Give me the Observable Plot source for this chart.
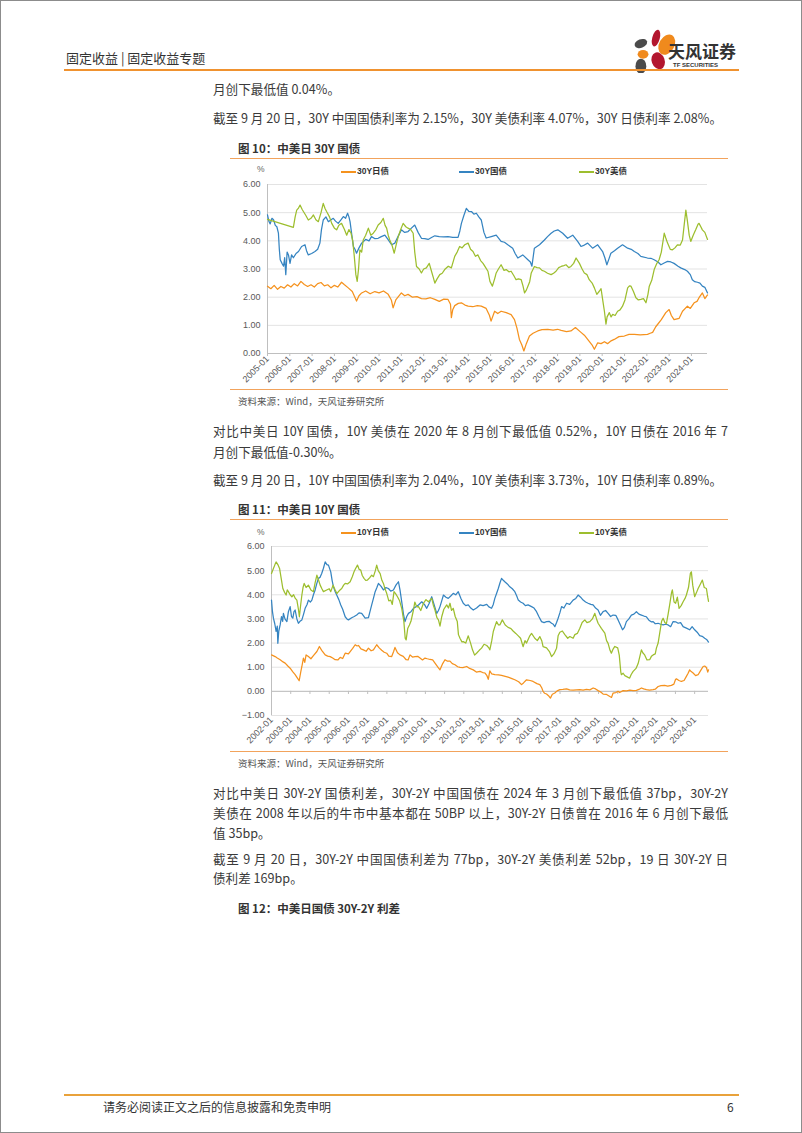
<!DOCTYPE html>
<html><head><meta charset="utf-8">
<script src="https://cdn.jsdelivr.net/npm/d3@7"></script>
<script src="https://cdn.jsdelivr.net/npm/@observablehq/plot@0.6"></script>
<style>
body{margin:0;background:#fff;}
#page{position:relative;width:802px;height:1133px;box-sizing:border-box;border:1px solid #8c8c8c;overflow:hidden;font-family:"Noto Sans CJK SC","Noto Sans",sans-serif;color:#3a3a3a;background:#fff;}
.a{position:absolute;white-space:nowrap;line-height:20px;}
.p{font-size:12.6px;left:212px;}
.j{width:515px;text-align:justify;text-align-last:justify;}
.title{font-size:11.5px;font-weight:bold;left:237px;color:#333;}
.rule{position:absolute;left:229px;width:498px;height:1px;background:#F2A35C;}
.src{font-size:9.5px;left:237px;color:#555;}
.leg{position:absolute;font-family:"Liberation Sans",Arial,"Noto Sans CJK SC",sans-serif;font-size:8.5px;font-weight:bold;color:#333;line-height:12px;white-space:nowrap;}
.sw{display:inline-block;width:15px;height:0;border-top:2px solid;vertical-align:middle;margin-right:1px;}
.unit{position:absolute;font-family:"Liberation Sans",Arial,sans-serif;font-size:8.5px;color:#666;line-height:12px;}
.chart{position:absolute;}
.chart svg{overflow:visible;}
</style></head>
<body><div id="page">
<!-- header -->
<div class="a" style="left:65px;top:47px;font-size:13px;color:#333;">固定收益 | 固定收益专题</div>
<svg style="position:absolute;left:626px;top:20px;" width="116" height="52">
  <g transform="translate(2,2) scale(1.08)">
  <ellipse cx="25" cy="14" rx="3.5" ry="8" fill="#B3162E" transform="rotate(15 25 14)"/>
  <ellipse cx="35" cy="20" rx="7" ry="10" fill="#F08A1D" transform="rotate(30 35 20)"/>
  <ellipse cx="11" cy="19" rx="6" ry="4" fill="#4b4b4b" transform="rotate(-20 11 19)"/>
  <ellipse cx="13" cy="29" rx="5" ry="4" fill="#F08A1D"/>
  <ellipse cx="27" cy="35" rx="6" ry="8" fill="#B3162E" transform="rotate(-20 27 35)"/>
  <ellipse cx="11" cy="40" rx="5" ry="7" fill="#4b4b4b"/>
  </g>
  <text x="41" y="37" font-size="17" font-weight="bold" fill="#333" font-family="Noto Sans CJK SC">天风证券</text>
  <text x="46" y="46" font-size="6" font-weight="bold" fill="#333" font-family="Liberation Sans">TF SECURITIES</text>
</svg>
<div style="position:absolute;left:63px;top:68px;width:675px;height:2px;background:#F0922F;"></div>

<div class="a p" style="top:78px;">月创下最低值 0.04%。</div>
<div class="a p" style="top:107px;">截至 9 月 20 日，30Y 中国国债利率为 2.15%，30Y 美债利率 4.07%，30Y 日债利率 2.08%。</div>

<!-- chart 1 -->
<div class="a title" style="top:137px;">图 10：中美日 30Y 国债</div>
<div class="rule" style="top:157px;"></div>
<div class="unit" style="left:256px;top:162px;">%</div>
<div id="leg1"></div>
<div class="chart" id="c1" style="left:225px;top:175px;"></div>
<div class="rule" style="top:388px;"></div>
<div class="a src" style="top:390px;">资料来源：Wind，天风证券研究所</div>

<div class="a p j" style="top:420px;">对比中美日 10Y 国债，10Y 美债在 2020 年 8 月创下最低值 0.52%，10Y 日债在 2016 年 7</div>
<div class="a p" style="top:441px;">月创下最低值-0.30%。</div>
<div class="a p" style="top:469px;">截至 9 月 20 日，10Y 中国国债利率为 2.04%，10Y 美债利率 3.73%，10Y 日债利率 0.89%。</div>

<!-- chart 2 -->
<div class="a title" style="top:498px;">图 11：中美日 10Y 国债</div>
<div class="rule" style="top:518px;"></div>
<div class="unit" style="left:256px;top:525px;">%</div>
<div id="leg2"></div>
<div class="chart" id="c2" style="left:225px;top:535px;"></div>
<div class="rule" style="top:750px;"></div>
<div class="a src" style="top:752px;">资料来源：Wind，天风证券研究所</div>

<div class="a p j" style="top:782px;">对比中美日 30Y-2Y 国债利差，30Y-2Y 中国国债在 2024 年 3 月创下最低值 37bp，30Y-2Y</div>
<div class="a p j" style="top:802px;">美债在 2008 年以后的牛市中基本都在 50BP 以上，30Y-2Y 日债曾在 2016 年 6 月创下最低</div>
<div class="a p" style="top:822px;">值 35bp。</div>
<div class="a p j" style="top:848px;">截至 9 月 20 日，30Y-2Y 中国国债利差为 77bp，30Y-2Y 美债利差 52bp，19 日 30Y-2Y 日</div>
<div class="a p" style="top:867px;">债利差 169bp。</div>
<div class="a title" style="top:897px;">图 12：中美日国债 30Y-2Y 利差</div>

<!-- footer -->
<div style="position:absolute;left:63px;top:1093px;width:675px;height:2px;background:#E9A23B;"></div>
<div class="a" style="left:102px;top:1096px;font-size:12px;color:#333;">请务必阅读正文之后的信息披露和免责申明</div>
<div class="a" style="left:726px;top:1096px;font-size:12px;color:#333;">6</div>
</div>
<script>
// ---------- data (decimal year, %) ----------
const legend1 = ["30Y日债", "30Y国债", "30Y美债"];
const legend2 = ["10Y日债", "10Y国债", "10Y美债"];
const yTicks1 = [0, 1, 2, 3, 4, 5, 6];
const yTicks2 = [-1, 0, 1, 2, 3, 4, 5, 6];

const jgb30 = [[2005.0,2.39],[2005.15,2.30],[2005.3,2.42],[2005.45,2.28],[2005.6,2.38],[2005.75,2.32],[2005.9,2.44],[2006.05,2.36],[2006.2,2.48],[2006.35,2.40],[2006.5,2.56],[2006.65,2.45],[2006.8,2.38],[2006.95,2.44],[2007.1,2.36],[2007.25,2.48],[2007.4,2.52],[2007.55,2.40],[2007.7,2.44],[2007.85,2.33],[2008.0,2.42],[2008.15,2.36],[2008.32,2.53],[2008.45,2.44],[2008.62,2.33],[2008.8,2.20],[2008.99,1.86],[2009.1,2.05],[2009.22,2.15],[2009.4,2.22],[2009.6,2.12],[2009.81,2.2],[2010.0,2.15],[2010.2,2.22],[2010.41,2.1],[2010.55,1.9],[2010.63,1.62],[2010.75,1.9],[2011.0,2.15],[2011.15,2.05],[2011.3,2.1],[2011.5,2.0],[2011.7,2.02],[2011.9,1.95],[2012.1,1.94],[2012.3,1.98],[2012.5,1.92],[2012.7,1.85],[2012.9,1.93],[2013.09,1.92],[2013.2,1.75],[2013.24,1.27],[2013.3,1.55],[2013.39,1.7],[2013.55,1.78],[2013.69,1.8],[2013.85,1.72],[2013.99,1.68],[2014.2,1.66],[2014.4,1.70],[2014.58,1.68],[2014.8,1.6],[2014.95,1.35],[2015.02,1.15],[2015.18,1.5],[2015.32,1.42],[2015.47,1.5],[2015.7,1.45],[2015.92,1.38],[2016.07,1.2],[2016.18,0.9],[2016.29,0.5],[2016.4,0.3],[2016.49,0.09],[2016.6,0.35],[2016.74,0.62],[2016.9,0.72],[2017.11,0.8],[2017.3,0.85],[2017.56,0.86],[2017.8,0.83],[2018.0,0.86],[2018.16,0.82],[2018.4,0.78],[2018.6,0.8],[2018.8,0.92],[2019.05,0.75],[2019.2,0.65],[2019.35,0.5],[2019.55,0.3],[2019.65,0.15],[2019.8,0.38],[2019.95,0.35],[2020.1,0.42],[2020.24,0.35],[2020.4,0.45],[2020.54,0.5],[2020.75,0.6],[2020.99,0.62],[2021.2,0.68],[2021.44,0.68],[2021.7,0.66],[2022.03,0.68],[2022.15,0.72],[2022.26,0.75],[2022.4,0.95],[2022.48,1.03],[2022.65,1.2],[2022.85,1.45],[2023.0,1.56],[2023.1,1.35],[2023.22,1.2],[2023.45,1.25],[2023.6,1.5],[2023.82,1.68],[2023.95,1.6],[2024.12,1.8],[2024.25,1.85],[2024.34,1.98],[2024.49,2.15],[2024.6,1.95],[2024.72,2.08]];

const cgb30 = [[2005.0,4.92],[2005.06,4.7],[2005.12,4.6],[2005.2,4.8],[2005.27,4.75],[2005.35,4.55],[2005.42,4.5],[2005.49,4.27],[2005.53,3.7],[2005.57,3.33],[2005.65,3.2],[2005.72,3.1],[2005.77,3.4],[2005.82,2.8],[2005.88,3.6],[2005.94,3.5],[2006.01,3.2],[2006.08,3.5],[2006.16,3.4],[2006.28,3.55],[2006.39,3.62],[2006.53,3.8],[2006.68,3.86],[2006.75,3.65],[2006.83,3.5],[2006.98,3.55],[2007.13,3.62],[2007.25,3.7],[2007.35,3.92],[2007.42,4.4],[2007.5,4.74],[2007.62,4.85],[2007.73,4.68],[2007.85,4.75],[2007.95,4.8],[2008.05,4.7],[2008.17,4.62],[2008.3,4.75],[2008.4,4.86],[2008.5,4.8],[2008.59,4.98],[2008.65,4.85],[2008.7,4.68],[2008.78,4.2],[2008.85,3.8],[2008.92,3.7],[2008.99,3.56],[2009.1,3.75],[2009.22,3.92],[2009.4,4.05],[2009.55,4.0],[2009.66,4.15],[2009.8,4.08],[2009.96,4.09],[2010.1,4.15],[2010.26,4.2],[2010.4,4.05],[2010.56,3.86],[2010.71,3.92],[2010.85,4.15],[2011.0,4.39],[2011.15,4.3],[2011.3,4.33],[2011.45,4.45],[2011.6,4.56],[2011.75,4.3],[2011.9,4.09],[2012.05,4.08],[2012.2,4.05],[2012.35,4.12],[2012.5,4.18],[2012.7,4.15],[2012.9,4.14],[2013.09,4.15],[2013.3,4.12],[2013.54,4.12],[2013.62,4.35],[2013.69,4.62],[2013.8,4.9],[2013.91,5.15],[2014.02,5.05],[2014.14,5.04],[2014.25,4.95],[2014.36,4.98],[2014.47,4.85],[2014.58,4.74],[2014.7,4.3],[2014.8,4.1],[2015.03,4.15],[2015.25,4.2],[2015.47,3.98],[2015.62,3.95],[2015.77,3.86],[2015.99,3.74],[2016.1,3.55],[2016.22,3.39],[2016.44,3.5],[2016.67,3.33],[2016.78,3.25],[2016.85,3.1],[2016.96,3.74],[2017.19,3.86],[2017.41,4.03],[2017.55,4.15],[2017.71,4.27],[2017.85,4.35],[2018.01,4.39],[2018.23,4.27],[2018.45,4.09],[2018.68,4.2],[2018.9,3.98],[2019.05,3.8],[2019.2,3.85],[2019.35,3.92],[2019.57,3.74],[2019.8,3.86],[2020.02,3.62],[2020.12,3.4],[2020.21,3.15],[2020.3,3.35],[2020.39,3.56],[2020.55,3.65],[2020.69,3.74],[2020.91,3.86],[2021.14,3.74],[2021.3,3.7],[2021.44,3.62],[2021.6,3.55],[2021.73,3.45],[2022.03,3.39],[2022.18,3.38],[2022.33,3.33],[2022.5,3.25],[2022.63,3.15],[2022.8,3.22],[2022.93,3.27],[2023.08,3.25],[2023.22,3.2],[2023.4,3.1],[2023.52,3.04],[2023.7,2.98],[2023.82,2.92],[2023.95,2.8],[2024.04,2.62],[2024.15,2.55],[2024.27,2.53],[2024.38,2.5],[2024.49,2.39],[2024.6,2.35],[2024.72,2.15]];

const ust30 = [[2005.0,4.76],[2006.16,4.48],[2006.24,4.85],[2006.31,5.09],[2006.38,5.15],[2006.46,5.27],[2006.55,5.12],[2006.61,5.04],[2006.72,4.9],[2006.83,4.74],[2006.95,4.8],[2007.06,4.92],[2007.17,4.75],[2007.28,4.68],[2007.4,5.0],[2007.5,5.33],[2007.58,5.15],[2007.65,5.04],[2007.78,4.85],[2007.88,4.62],[2008.0,4.45],[2008.1,4.39],[2008.2,4.55],[2008.32,4.62],[2008.45,4.4],[2008.55,4.2],[2008.65,4.4],[2008.74,4.28],[2008.82,4.0],[2008.89,3.45],[2008.96,2.8],[2009.02,2.56],[2009.08,3.0],[2009.14,3.68],[2009.22,3.6],[2009.29,4.03],[2009.4,4.2],[2009.52,4.45],[2009.63,4.2],[2009.74,4.27],[2009.86,4.4],[2009.96,4.56],[2010.08,4.65],[2010.19,4.8],[2010.27,4.55],[2010.34,4.45],[2010.41,4.2],[2010.48,4.03],[2010.58,3.85],[2010.68,3.56],[2010.78,3.9],[2010.86,4.15],[2010.97,4.4],[2011.08,4.62],[2011.2,4.5],[2011.3,4.45],[2011.42,4.4],[2011.53,4.27],[2011.6,3.6],[2011.68,3.09],[2011.8,3.0],[2011.9,2.86],[2012.0,3.0],[2012.12,3.04],[2012.25,3.2],[2012.35,2.92],[2012.43,2.7],[2012.5,2.5],[2012.6,2.65],[2012.72,2.8],[2012.83,2.85],[2012.94,2.98],[2013.1,3.1],[2013.24,3.04],[2013.39,3.45],[2013.5,3.6],[2013.61,3.8],[2013.72,3.75],[2013.84,3.86],[2013.99,3.92],[2014.1,3.7],[2014.21,3.62],[2014.32,3.45],[2014.43,3.5],[2014.55,3.3],[2014.66,3.2],[2014.78,3.05],[2014.88,2.92],[2014.97,2.56],[2015.08,2.39],[2015.18,2.65],[2015.25,2.86],[2015.35,3.0],[2015.47,3.15],[2015.6,2.95],[2015.7,2.98],[2015.82,2.9],[2015.92,2.92],[2016.05,2.75],[2016.14,2.62],[2016.25,2.65],[2016.37,2.62],[2016.45,2.4],[2016.52,2.15],[2016.6,2.25],[2016.67,2.39],[2016.75,2.55],[2016.82,2.86],[2016.96,3.09],[2017.08,3.05],[2017.19,3.04],[2017.3,2.95],[2017.41,2.92],[2017.55,2.85],[2017.71,2.8],[2017.82,2.85],[2017.93,2.92],[2018.05,3.05],[2018.16,3.09],[2018.28,3.12],[2018.38,3.15],[2018.5,3.05],[2018.6,3.09],[2018.72,3.2],[2018.83,3.39],[2018.98,3.2],[2019.1,3.0],[2019.2,2.86],[2019.32,2.8],[2019.42,2.62],[2019.55,2.5],[2019.65,2.33],[2019.76,2.1],[2019.87,2.21],[2019.95,2.3],[2020.02,1.92],[2020.1,1.5],[2020.17,1.04],[2020.22,1.3],[2020.32,1.45],[2020.4,1.3],[2020.47,1.39],[2020.58,1.35],[2020.69,1.5],[2020.8,1.55],[2020.91,1.68],[2021.02,1.9],[2021.14,2.33],[2021.22,2.4],[2021.29,2.39],[2021.4,2.2],[2021.51,1.98],[2021.62,1.9],[2021.73,1.92],[2021.85,1.95],[2021.96,1.8],[2022.05,2.1],[2022.11,2.39],[2022.22,2.6],[2022.33,2.98],[2022.45,3.2],[2022.55,3.33],[2022.65,3.6],[2022.78,4.27],[2022.85,4.1],[2022.93,3.92],[2023.05,3.7],[2023.15,3.68],[2023.26,3.75],[2023.37,3.86],[2023.5,3.85],[2023.6,4.03],[2023.68,4.6],[2023.75,5.09],[2023.82,4.7],[2023.9,4.2],[2023.97,3.98],[2024.08,4.2],[2024.19,4.39],[2024.3,4.6],[2024.34,4.62],[2024.42,4.5],[2024.49,4.39],[2024.6,4.3],[2024.72,4.05]];

const jgb10 = [[2002.0,1.51],[2002.19,1.44],[2002.3,1.38],[2002.45,1.31],[2002.6,1.22],[2002.71,1.17],[2002.85,1.05],[2002.97,0.96],[2003.1,0.82],[2003.23,0.69],[2003.35,0.55],[2003.44,0.44],[2003.52,0.8],[2003.58,1.03],[2003.66,1.38],[2003.73,1.2],[2003.8,1.51],[2003.92,1.44],[2004.05,1.35],[2004.18,1.48],[2004.36,1.65],[2004.49,1.86],[2004.61,1.7],[2004.79,1.51],[2004.92,1.46],[2005.05,1.44],[2005.18,1.38],[2005.31,1.31],[2005.45,1.30],[2005.57,1.41],[2005.7,1.36],[2005.83,1.58],[2006.0,1.55],[2006.09,1.65],[2006.22,1.78],[2006.35,1.93],[2006.45,1.88],[2006.52,1.9],[2006.65,1.76],[2006.78,1.72],[2006.92,1.66],[2007.04,1.79],[2007.18,1.68],[2007.3,1.72],[2007.47,1.93],[2007.6,1.8],[2007.73,1.7],[2007.86,1.62],[2007.99,1.58],[2008.1,1.46],[2008.25,1.44],[2008.35,1.65],[2008.42,1.82],[2008.55,1.6],[2008.68,1.51],[2008.85,1.45],[2009.0,1.31],[2009.1,1.3],[2009.2,1.51],[2009.33,1.42],[2009.46,1.44],[2009.6,1.45],[2009.72,1.38],[2009.85,1.3],[2009.98,1.38],[2010.1,1.35],[2010.24,1.32],[2010.38,1.30],[2010.5,1.17],[2010.65,1.0],[2010.76,0.89],[2010.9,1.15],[2011.02,1.31],[2011.15,1.25],[2011.28,1.25],[2011.4,1.15],[2011.54,1.1],[2011.68,1.02],[2011.8,0.99],[2011.95,0.98],[2012.15,1.03],[2012.3,0.95],[2012.49,0.89],[2012.65,0.8],[2012.84,0.83],[2012.98,0.78],[2013.1,0.76],[2013.2,0.65],[2013.27,0.5],[2013.35,0.85],[2013.45,0.72],[2013.61,0.69],[2013.8,0.68],[2013.96,0.66],[2014.15,0.62],[2014.3,0.59],[2014.5,0.53],[2014.65,0.48],[2014.85,0.4],[2015.0,0.28],[2015.1,0.35],[2015.26,0.48],[2015.45,0.45],[2015.6,0.41],[2015.8,0.32],[2015.95,0.28],[2016.05,0.15],[2016.12,0.0],[2016.2,-0.08],[2016.3,-0.11],[2016.4,-0.18],[2016.5,-0.28],[2016.6,-0.12],[2016.73,-0.07],[2016.85,0.02],[2016.99,0.07],[2017.15,0.08],[2017.34,0.1],[2017.5,0.06],[2017.68,0.05],[2017.85,0.06],[2018.03,0.07],[2018.2,0.05],[2018.37,0.08],[2018.55,0.06],[2018.72,0.14],[2018.85,0.1],[2018.98,0.03],[2019.1,-0.02],[2019.24,-0.11],[2019.4,-0.12],[2019.59,-0.21],[2019.68,-0.25],[2019.76,-0.07],[2019.9,-0.05],[2020.02,0.0],[2020.1,-0.05],[2020.28,0.03],[2020.45,0.02],[2020.63,0.05],[2020.8,0.03],[2020.97,0.04],[2021.1,0.08],[2021.23,0.14],[2021.35,0.1],[2021.49,0.07],[2021.65,0.05],[2021.84,0.07],[2021.95,0.09],[2022.1,0.2],[2022.25,0.24],[2022.44,0.25],[2022.6,0.22],[2022.79,0.25],[2022.92,0.3],[2023.0,0.48],[2023.05,0.52],[2023.18,0.45],[2023.31,0.41],[2023.45,0.45],[2023.57,0.62],[2023.66,0.75],[2023.74,0.89],[2023.82,0.82],[2023.92,0.76],[2024.05,0.65],[2024.18,0.69],[2024.3,0.85],[2024.44,1.03],[2024.52,1.05],[2024.61,0.99],[2024.68,0.8],[2024.72,0.89]];

const cgb10 = [[2002.0,3.78],[2002.05,3.3],[2002.1,3.03],[2002.17,2.8],[2002.24,2.48],[2002.3,2.7],[2002.33,1.99],[2002.38,2.5],[2002.45,2.75],[2002.52,3.1],[2002.58,2.9],[2002.62,3.23],[2002.7,3.0],[2002.8,2.89],[2002.88,3.3],[2002.97,3.51],[2003.04,3.1],[2003.11,3.03],[2003.17,3.3],[2003.23,3.37],[2003.32,3.0],[2003.4,2.82],[2003.48,2.9],[2003.58,2.96],[2003.67,3.2],[2003.75,3.44],[2003.85,3.6],[2003.92,3.78],[2004.02,3.7],[2004.1,3.78],[2004.18,4.0],[2004.27,4.2],[2004.35,4.45],[2004.44,4.68],[2004.52,4.72],[2004.61,4.88],[2004.7,5.1],[2004.79,5.36],[2004.88,5.25],[2004.96,5.23],[2005.08,4.95],[2005.15,4.6],[2005.22,4.33],[2005.3,4.15],[2005.39,3.99],[2005.5,3.8],[2005.6,3.58],[2005.7,3.4],[2005.83,3.09],[2005.92,3.0],[2006.0,2.96],[2006.17,3.05],[2006.3,3.1],[2006.43,3.16],[2006.55,3.25],[2006.69,3.23],[2006.87,3.03],[2007.04,3.05],[2007.12,3.3],[2007.21,3.58],[2007.3,3.85],[2007.39,4.13],[2007.48,4.3],[2007.56,4.47],[2007.7,4.35],[2007.82,4.2],[2007.95,4.3],[2008.08,4.26],[2008.2,4.15],[2008.34,4.2],[2008.47,4.4],[2008.6,4.54],[2008.68,4.2],[2008.77,3.71],[2008.86,3.2],[2008.94,2.89],[2009.03,3.1],[2009.12,3.23],[2009.25,3.3],[2009.38,3.44],[2009.5,3.5],[2009.64,3.58],[2009.81,3.71],[2009.95,3.6],[2010.07,3.44],[2010.2,3.65],[2010.33,3.92],[2010.45,3.6],[2010.59,3.23],[2010.68,3.35],[2010.76,3.51],[2010.85,3.75],[2010.94,3.99],[2011.07,3.9],[2011.19,3.85],[2011.32,3.95],[2011.45,4.06],[2011.58,4.0],[2011.71,4.13],[2011.85,3.85],[2011.97,3.65],[2012.1,3.55],[2012.23,3.58],[2012.36,3.45],[2012.49,3.37],[2012.66,3.45],[2012.84,3.58],[2013.0,3.55],[2013.19,3.6],[2013.3,3.5],[2013.44,3.44],[2013.53,3.6],[2013.61,3.85],[2013.7,4.05],[2013.79,4.26],[2013.88,4.5],[2013.96,4.68],[2014.05,4.6],[2014.13,4.54],[2014.26,4.45],[2014.39,4.33],[2014.52,4.25],[2014.65,4.13],[2014.75,3.95],[2014.83,3.78],[2014.95,3.7],[2015.08,3.65],[2015.2,3.55],[2015.34,3.58],[2015.52,3.51],[2015.65,3.45],[2015.78,3.3],[2015.9,3.1],[2016.04,2.89],[2016.17,2.85],[2016.3,2.89],[2016.43,2.9],[2016.56,2.82],[2016.65,2.78],[2016.73,2.68],[2016.82,2.85],[2016.9,3.03],[2016.99,3.25],[2017.08,3.51],[2017.2,3.45],[2017.34,3.65],[2017.5,3.6],[2017.68,3.78],[2017.82,3.85],[2017.94,3.99],[2018.07,3.9],[2018.2,3.78],[2018.33,3.7],[2018.46,3.65],[2018.6,3.6],[2018.72,3.58],[2018.85,3.45],[2018.98,3.37],[2019.1,3.15],[2019.24,3.3],[2019.37,3.35],[2019.5,3.23],[2019.63,3.1],[2019.76,3.16],[2019.9,3.15],[2020.02,2.96],[2020.14,2.75],[2020.25,2.55],[2020.35,2.65],[2020.45,2.89],[2020.58,3.0],[2020.71,3.16],[2020.84,3.2],[2020.97,3.3],[2021.1,3.2],[2021.23,3.16],[2021.36,3.12],[2021.49,3.09],[2021.62,2.95],[2021.74,2.88],[2021.84,2.89],[2021.95,2.8],[2022.1,2.82],[2022.23,2.78],[2022.36,2.75],[2022.49,2.78],[2022.62,2.75],[2022.75,2.68],[2022.88,2.89],[2023.01,2.88],[2023.14,2.82],[2023.27,2.85],[2023.4,2.68],[2023.57,2.62],[2023.74,2.55],[2023.87,2.68],[2024.0,2.55],[2024.13,2.45],[2024.26,2.31],[2024.39,2.28],[2024.52,2.2],[2024.62,2.15],[2024.72,2.04]];

const ust10 = [[2002.0,4.88],[2002.1,5.09],[2002.18,5.25],[2002.24,5.36],[2002.33,5.25],[2002.42,5.09],[2002.5,4.7],[2002.59,4.26],[2002.68,4.1],[2002.76,3.99],[2002.82,4.2],[2002.88,4.13],[2002.97,4.0],[2003.06,3.92],[2003.15,4.0],[2003.24,3.85],[2003.32,3.78],[2003.4,3.4],[2003.45,3.09],[2003.52,3.6],[2003.58,3.99],[2003.64,4.3],[2003.7,4.47],[2003.8,4.3],[2003.92,4.4],[2004.05,4.2],[2004.18,4.13],[2004.27,4.5],[2004.36,4.81],[2004.45,4.6],[2004.53,4.4],[2004.62,4.25],[2004.7,4.13],[2004.87,4.2],[2005.0,4.25],[2005.08,4.13],[2005.2,4.4],[2005.31,4.2],[2005.4,4.05],[2005.48,4.13],[2005.56,4.2],[2005.65,4.26],[2005.75,4.4],[2005.83,4.47],[2005.95,4.45],[2006.09,4.54],[2006.2,4.75],[2006.29,4.95],[2006.38,5.1],[2006.47,5.23],[2006.56,5.05],[2006.64,5.02],[2006.72,4.8],[2006.81,4.68],[2006.9,4.6],[2006.99,4.61],[2007.1,4.7],[2007.21,4.81],[2007.3,4.75],[2007.4,5.0],[2007.47,5.23],[2007.55,5.0],[2007.65,4.88],[2007.74,4.6],[2007.82,4.47],[2007.9,4.25],[2007.99,4.06],[2008.1,3.75],[2008.2,3.78],[2008.28,3.6],[2008.37,4.13],[2008.45,4.05],[2008.55,3.92],[2008.66,3.75],[2008.77,3.44],[2008.88,2.9],[2008.95,2.2],[2009.0,2.13],[2009.08,2.6],[2009.17,2.75],[2009.25,2.9],[2009.38,3.37],[2009.45,3.7],[2009.55,3.5],[2009.64,3.51],[2009.76,3.35],[2009.9,3.65],[2010.03,3.8],[2010.16,3.71],[2010.33,3.85],[2010.42,3.55],[2010.5,3.37],[2010.6,3.05],[2010.68,2.96],[2010.76,2.7],[2010.85,3.09],[2010.96,3.4],[2011.11,3.58],[2011.2,3.45],[2011.28,3.65],[2011.36,3.35],[2011.45,3.44],[2011.55,3.1],[2011.66,2.89],[2011.72,2.35],[2011.8,2.2],[2011.9,2.05],[2011.97,2.06],[2012.1,2.0],[2012.23,2.3],[2012.35,2.0],[2012.45,1.72],[2012.56,1.5],[2012.66,1.58],[2012.8,1.7],[2012.92,1.79],[2013.05,1.95],[2013.19,1.9],[2013.3,1.8],[2013.35,1.72],[2013.45,2.1],[2013.53,2.48],[2013.62,2.7],[2013.7,2.89],[2013.8,2.75],[2013.87,2.75],[2014.0,2.96],[2014.15,2.75],[2014.3,2.65],[2014.45,2.6],[2014.56,2.5],[2014.7,2.4],[2014.83,2.3],[2014.95,2.2],[2015.08,1.85],[2015.18,2.1],[2015.26,2.0],[2015.43,2.3],[2015.52,2.4],[2015.69,2.2],[2015.82,2.1],[2015.95,2.27],[2016.05,2.1],[2016.12,1.85],[2016.3,1.8],[2016.45,1.65],[2016.56,1.44],[2016.68,1.55],[2016.82,1.79],[2016.9,2.3],[2016.99,2.45],[2017.12,2.5],[2017.25,2.35],[2017.4,2.2],[2017.51,2.27],[2017.68,2.2],[2017.77,2.35],[2017.9,2.4],[2018.03,2.61],[2018.15,2.85],[2018.29,2.96],[2018.4,2.85],[2018.55,2.89],[2018.68,3.0],[2018.81,3.23],[2018.9,3.0],[2018.98,2.82],[2019.15,2.61],[2019.33,2.41],[2019.42,2.1],[2019.5,1.99],[2019.6,1.7],[2019.67,1.58],[2019.76,1.75],[2019.85,1.86],[2020.0,1.8],[2020.08,1.5],[2020.16,0.8],[2020.19,0.69],[2020.28,0.75],[2020.37,0.65],[2020.54,0.58],[2020.62,0.55],[2020.7,0.7],[2020.8,0.83],[2020.95,0.95],[2021.06,1.15],[2021.15,1.45],[2021.23,1.72],[2021.3,1.6],[2021.4,1.51],[2021.52,1.3],[2021.66,1.31],[2021.75,1.45],[2021.84,1.51],[2021.95,1.55],[2022.01,1.79],[2022.1,2.0],[2022.18,2.4],[2022.28,2.9],[2022.36,3.03],[2022.45,2.85],[2022.53,2.8],[2022.62,3.2],[2022.7,3.58],[2022.8,4.1],[2022.84,4.2],[2022.93,3.7],[2023.01,3.65],[2023.1,3.9],[2023.19,3.44],[2023.3,3.55],[2023.4,3.71],[2023.5,3.85],[2023.57,3.99],[2023.68,4.3],[2023.78,4.9],[2023.83,4.95],[2023.9,4.4],[2024.0,3.92],[2024.1,4.1],[2024.18,4.26],[2024.3,4.45],[2024.4,4.61],[2024.5,4.3],[2024.61,4.26],[2024.68,3.9],[2024.72,3.73]];

// ---------- rendering ----------
const colors = ["#F5921E", "#3584C1", "#9DBE2E"];
function toDate(t){const yr=Math.floor(t);const s=Date.UTC(yr,0,1),e=Date.UTC(yr+1,0,1);return new Date(s+(t-yr)*(e-s));}
function rows(arr){return arr.map(([t,v])=>({date:toDate(t),value:v}));}

function legend(id, names, top, lefts){
  const el=document.getElementById(id);
  names.forEach((n,i)=>{
    const d=document.createElement("div");
    d.className="leg";d.style.left=lefts[i]+"px";d.style.top=top+"px";
    d.innerHTML=`<span class="sw" style="border-color:${colors[i]}"></span>${n}`;
    el.appendChild(d);
  });
}
legend("leg1", legend1, 164, [340,458,578]);
legend("leg2", legend2, 525, [340,458,578]);

function chart(el, series, opts){
  const years=d3.utcYear.range(opts.x0, new Date(opts.x1.getTime()+1));
  const yearTicks=years.filter(d=>d<=opts.x1);
  const zeroAxis = opts.yTicks[0] < 0;
  const marks=[
    Plot.gridY(opts.yTicks,{stroke:"#e3e3e3",strokeOpacity:1}),
    Plot.ruleX([opts.x0],{stroke:"#bfbfbf"}),
    Plot.ruleY([0],{stroke:"#bfbfbf"}),
    Plot.axisY(opts.yTicks,{tickSize:0,tickPadding:7,tickFormat:d3.format(".2f"),label:null,fill:"#595959"}),
    Plot.axisX(yearTicks,{tickSize:zeroAxis?0:3,tickPadding:zeroAxis?3:1,tickRotate:-45,tickFormat:d3.utcFormat("%Y-%m"),label:null,stroke:"#bfbfbf",fill:"#595959"})
  ];
  if(zeroAxis) marks.push(Plot.ruleX(yearTicks,{x:d=>d,y1:0,y2:opts.tickLen,stroke:"#bfbfbf"}));
  series.forEach((s,i)=>marks.push(Plot.line(rows(s),{x:"date",y:"value",stroke:colors[i],strokeWidth:1.25})));
  const svg=Plot.plot({
    width:opts.width,height:opts.height,
    marginTop:opts.mt,marginBottom:opts.mb,marginLeft:opts.ml,marginRight:opts.mr,
    style:{fontFamily:"'Liberation Sans', Arial, sans-serif",fontSize:"9px",background:"transparent",color:"#595959"},
    x:{type:"utc",domain:[opts.x0,opts.xEnd]},
    y:{domain:[opts.yTicks[0],opts.yTicks[opts.yTicks.length-1]]},
    marks
  });
  document.getElementById(el).appendChild(svg);
}

chart("c1",[jgb30,cgb30,ust30],{
  x0:new Date(Date.UTC(2005,0,1)), x1:new Date(Date.UTC(2024,0,1)), xEnd:new Date(Date.UTC(2024,8,20)),
  yTicks:yTicks1, width:492,height:215, mt:8, mb:38, ml:41, mr:11
});
chart("c2",[jgb10,cgb10,ust10],{
  x0:new Date(Date.UTC(2002,0,1)), x1:new Date(Date.UTC(2024,0,1)), xEnd:new Date(Date.UTC(2024,8,20)),
  yTicks:yTicks2, width:492,height:215, mt:10, mb:36, ml:45, mr:10, tickLen:-0.13
});
</script>
</body></html>
